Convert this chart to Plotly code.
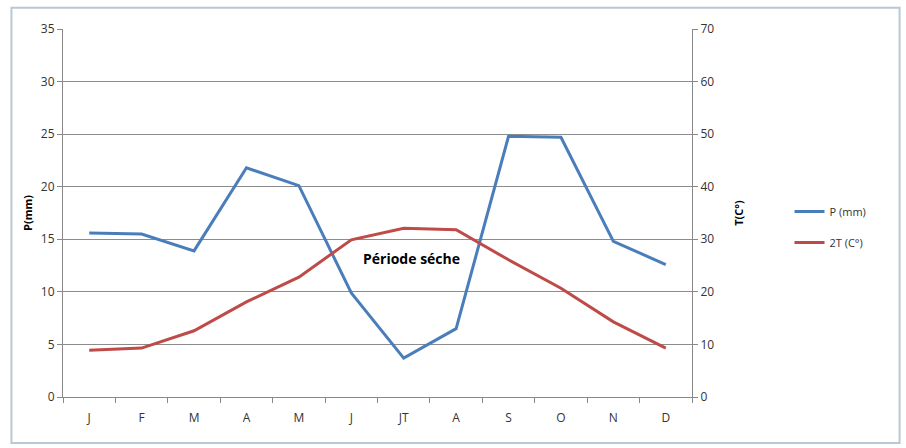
import plotly.graph_objects as go

months = ["J", "F", "M", "A", "M ", "J ", "JT", "A ", "S", "O", "N", "D"]
month_labels = ["J", "F", "M", "A", "M", "J", "JT", "A", "S", "O", "N", "D"]
precip = [15.6, 15.5, 13.9, 21.8, 20.1, 9.9, 3.7, 6.5, 24.8, 24.7, 14.8, 12.6]
temp2 = [8.9, 9.3, 12.6, 18.1, 22.8, 29.9, 32.1, 31.8, 26.1, 20.7, 14.3, 9.3]

blue = "#4A7EBB"
red = "#BE4B48"
font = "Open Sans, Liberation Sans, sans-serif"

fig = go.Figure()
fig.add_trace(go.Scatter(x=months, y=precip, mode="lines", name="P (mm)",
                         legendgroup="p",
                         line=dict(color=blue, width=3), yaxis="y"))
fig.add_trace(go.Scatter(x=months, y=temp2, mode="lines", name="2T (C°)",
                         legendgroup="t",
                         line=dict(color=red, width=3), yaxis="y2"))

fig.update_layout(
    width=906, height=448,
    margin=dict(l=63, r=214, t=29, b=51),
    paper_bgcolor="white", plot_bgcolor="white",
    font=dict(family=font, size=12, color="#333333"),
    showlegend=True,
    legend=dict(x=1.155, y=0.462, xanchor="left", yanchor="middle",
                font=dict(size=11, color="#333333"), tracegroupgap=12,
                itemwidth=30, bgcolor="rgba(0,0,0,0)"),
    xaxis=dict(type="category", categoryorder="array", categoryarray=months,
               tickmode="array", tickvals=months, ticktext=month_labels,
               tickson="boundaries", ticks="outside", ticklen=5, tickcolor="#888888",
               ticklabelstandoff=10, tickfont=dict(size=12, color="#333333"),
               showline=True, linecolor="#888888", linewidth=1,
               showgrid=False, zeroline=False, range=[-0.5, 11.5]),
    yaxis=dict(range=[0, 35], dtick=5, showgrid=True, gridcolor="#8c8c8c", gridwidth=1,
               ticks="outside", ticklen=5, tickcolor="#888888",
               tickfont=dict(size=12, color="#333333"),
               showline=True, linecolor="#888888", zeroline=False,
               title=dict(text="<b>P(mm)</b>", font=dict(size=11, color="#000000"), standoff=6)),
    yaxis2=dict(range=[0, 70], dtick=10, overlaying="y", side="right", showgrid=False,
                ticks="outside", ticklen=5, tickcolor="#888888",
                tickfont=dict(size=12, color="#333333"),
                showline=True, linecolor="#888888", zeroline=False,
                title=dict(text="<b>T(C°)</b>", font=dict(size=11, color="#000000"), standoff=22)),
    annotations=[dict(x=6.15, y=13.2, xref="x", yref="y", text="<b>Période séche</b>",
                      showarrow=False, font=dict(size=14, color="#000000", family=font))],
    shapes=[dict(type="rect", xref="paper", yref="paper",
                 x0=-0.082, x1=1.33, y0=-0.125, y1=1.058,
                 line=dict(color="#b8c8d4", width=2), layer="below")],
)

fig.write_html("out.html")
